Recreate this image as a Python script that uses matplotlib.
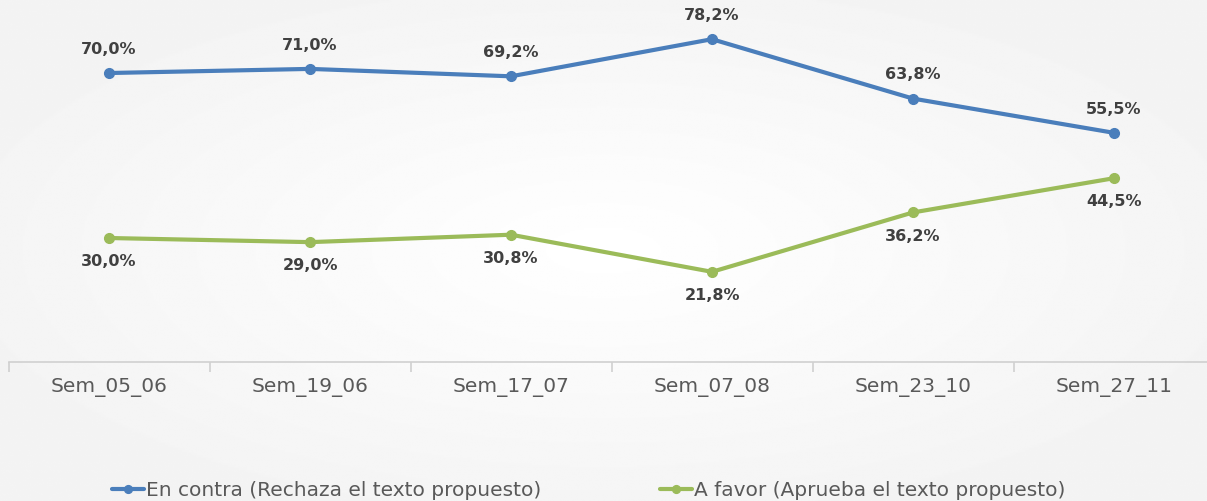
import numpy as np
import matplotlib.pyplot as plt

# data
semanas = ['Sem_05_06', 'Sem_19_06', 'Sem_17_07', 'Sem_07_08', 'Sem_23_10', 'Sem_27_11']
en_contra = [70.0, 71.0, 69.2, 78.2, 63.8, 55.5]
a_favor = [30.0, 29.0, 30.8, 21.8, 36.2, 44.5]
lbl_contra = 'En contra (Rechaza el texto propuesto)'
lbl_favor = 'A favor (Aprueba el texto propuesto)'

azul = '#4a7ebb'
verde = '#9bbb59'
gris_txt = '#404040'

plt.rcParams['font.family'] = ['DejaVu Sans']

fig = plt.figure(figsize=(12.07, 5.01), dpi=100)

# fondo radial (centro blanco, bordes gris claro)
bg = fig.add_axes([0, 0, 1, 1], zorder=-10)
yy, xx = np.mgrid[-1:1:300j, -1:1:700j]
r = np.sqrt((xx * 0.9) ** 2 + (yy * 0.9) ** 2)
bg.imshow(1 - 0.045 * np.clip(r, 0, 1), cmap='gray', vmin=0, vmax=1,
          aspect='auto', extent=[0, 1, 0, 1])
bg.axis('off')

ax = fig.add_axes([8.5 / 1207, (501 - 361.75) / 501, 1206 / 1207, 350.6 / 501])
ax.patch.set_alpha(0)
x = np.arange(len(semanas))
ax.plot(x, en_contra, color=azul, lw=3, marker='o', ms=7, label=lbl_contra, solid_capstyle='round')
ax.plot(x, a_favor, color=verde, lw=3, marker='o', ms=7, label=lbl_favor, solid_capstyle='round')

for i in range(len(semanas)):
    ax.annotate(f'{en_contra[i]:.1f}%'.replace('.', ','), (x[i], en_contra[i]),
                xytext=(0, 17), textcoords='offset points', ha='center', va='center',
                fontsize=11.5, fontweight='bold', color=gris_txt)
    ax.annotate(f'{a_favor[i]:.1f}%'.replace('.', ','), (x[i], a_favor[i]),
                xytext=(0, -17), textcoords='offset points', ha='center', va='center',
                fontsize=11.5, fontweight='bold', color=gris_txt)

ax.set_xlim(-0.5, len(semanas) - 0.5)
ax.set_ylim(0, 85)
ax.set_xticks(x)
ax.set_xticklabels(semanas, fontsize=14.5, color='#595959')
ax.set_xticks(np.arange(len(semanas) + 1) - 0.5, minor=True)
ax.tick_params(axis='x', which='major', length=0, pad=12)
ax.tick_params(axis='x', which='minor', length=7, color='#d0d0d0', width=1.2)
ax.set_yticks([])
for s in ['top', 'right', 'left']:
    ax.spines[s].set_visible(False)
ax.spines['bottom'].set_color('#d0d0d0')
ax.spines['bottom'].set_linewidth(1.2)

fig.legend(loc='center', bbox_to_anchor=(0.4876, 0.021), ncol=2, frameon=False,
           fontsize=14.5, labelcolor='#595959', handlelength=1.6, handletextpad=0.1,
           columnspacing=5.9, markerscale=0.8)

fig.savefig('out.png', dpi=100)
